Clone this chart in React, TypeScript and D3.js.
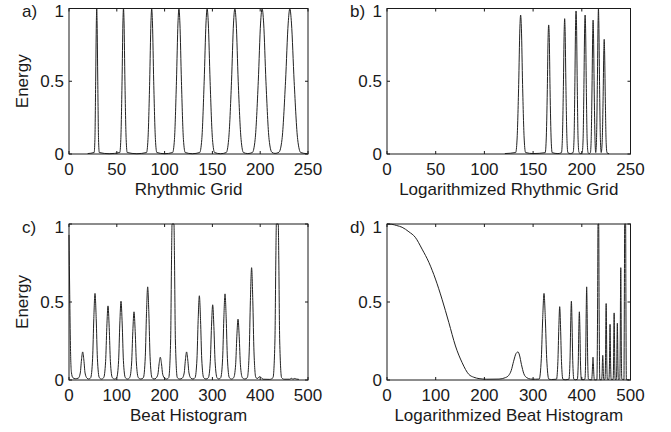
import React, { useEffect, useRef } from 'react'
import { select, scaleLinear, line, curveMonotoneX } from 'd3'

// energy curves as [bin, energy]
const rhythmicGrid: [number, number][] = [
  [19.5, 0.003],
  [26.3, 0.01], [27.1, 0.1], [27.9, 0.5], [28.6, 0.9], [29, 1], [29.4, 0.9], [30.1, 0.5], [30.9, 0.1], [31.7, 0.01],
  [42, 0.002],
  [53.1, 0.01], [54.2, 0.1], [55.5, 0.5], [56.4, 0.9], [57, 1], [57.6, 0.9], [58.5, 0.5], [59.8, 0.1], [60.9, 0.01],
  [71, 0.002],
  [81.1, 0.01], [82.6, 0.1], [84.4, 0.5], [85.7, 0.9], [86.5, 1], [87.3, 0.9], [88.6, 0.5], [90.4, 0.1], [91.9, 0.01],
  [100, 0.002],
  [108.4, 0.01], [110.3, 0.1], [112.4, 0.5], [114, 0.9], [115, 1], [116, 0.9], [117.6, 0.5], [119.7, 0.1], [121.6, 0.01],
  [129, 0.002],
  [136.7, 0.01], [138.9, 0.1], [141.4, 0.5], [143.3, 0.9], [144.5, 1], [145.7, 0.9], [147.6, 0.5], [150.1, 0.1], [152.3, 0.01],
  [158.5, 0.002],
  [164.5, 0.01], [167, 0.1], [170, 0.5], [172.1, 0.9], [173.5, 1], [174.9, 0.9], [177, 0.5], [180, 0.1], [182.5, 0.01],
  [187, 0.003],
  [191.8, 0.01], [194.7, 0.1], [198, 0.5], [200.4, 0.9], [202, 1], [203.6, 0.9], [206, 0.5], [209.3, 0.1], [212.2, 0.012],
  [215.5, 0.004],
  [219.6, 0.012], [222.8, 0.1], [226.5, 0.5], [229.3, 0.9], [231, 1], [232.7, 0.9], [235.5, 0.5], [239.2, 0.1], [242.4, 0.01],
  [249, 0.002],
]

const logRhythmicGrid: [number, number][] = [
  [121, 0.003],
  [132.1, 0.01], [133.5, 0.096], [135.2, 0.478], [136.4, 0.86], [137.2, 0.955], [138, 0.86], [139.2, 0.478], [140.9, 0.096], [142.3, 0.01],
  [150, 0.003],
  [162.4, 0.009], [163.4, 0.089], [164.6, 0.444], [165.4, 0.8], [166, 0.887], [166.6, 0.8], [167.4, 0.444], [168.6, 0.089], [169.6, 0.009],
  [175.5, 0.003],
  [179.1, 0.009], [180, 0.093], [181.1, 0.465], [181.9, 0.84], [182.4, 0.93], [182.9, 0.84], [183.7, 0.465], [184.8, 0.093], [185.7, 0.009],
  [188.3, 0.003],
  [191.1, 0.01], [192, 0.098], [192.9, 0.49], [193.6, 0.885], [194.1, 0.983], [194.6, 0.885], [195.3, 0.49], [196.2, 0.098], [197.1, 0.01],
  [198.8, 0.003],
  [200.4, 0.01], [201.3, 0.096], [202.2, 0.478], [202.9, 0.86], [203.4, 0.955], [203.9, 0.86], [204.6, 0.478], [205.5, 0.096], [206.4, 0.01],
  [207.5, 0.003],
  [208.8, 0.009], [209.6, 0.092], [210.5, 0.46], [211.2, 0.83], [211.6, 0.92], [212, 0.83], [212.7, 0.46], [213.6, 0.092], [214.3, 0.01],
  [215.1, 0.1], [216, 0.5], [216.7, 0.9], [217.1, 1], [217.5, 0.9], [218.2, 0.5], [219.1, 0.1], [219.9, 0.01],
  [220.9, 0.079], [221.9, 0.394], [222.6, 0.71], [223, 0.788], [223.4, 0.71], [224.1, 0.394], [225, 0.079], [225.9, 0.008],
  [228, 0.002],
]

const beatHistogram: [number, number][] = [
  [0, 0.93], [1.5, 0.55], [3, 0.22], [5, 0.05], [8, 0.015], [13, 0.008],
  [19.6, 0.012], [23.6, 0.045], [26.1, 0.128], [28.6, 0.18], [31.1, 0.128], [33.6, 0.045], [37.6, 0.012], [41.5, 0.006],
  [45.4, 0.015], [49.4, 0.139], [51.9, 0.394], [54.4, 0.555], [56.9, 0.394], [59.4, 0.139], [63.4, 0.015], [68, 0.006],
  [72.6, 0.015], [76.6, 0.119], [79.1, 0.337], [81.6, 0.475], [84.1, 0.337], [86.6, 0.119], [90.6, 0.015], [95.2, 0.006],
  [99.8, 0.015], [103.8, 0.126], [106.3, 0.359], [108.8, 0.505], [111.3, 0.359], [113.8, 0.126], [117.8, 0.015], [122.4, 0.006],
  [127, 0.015], [131, 0.109], [133.5, 0.31], [136, 0.437], [138.5, 0.31], [141, 0.109], [145, 0.015], [150.3, 0.006],
  [155.6, 0.015], [159.6, 0.149], [162.1, 0.424], [164.6, 0.597], [167.1, 0.424], [169.6, 0.149], [173.6, 0.015], [177.8, 0.006],
  [182, 0.012], [186, 0.037], [188.5, 0.104], [191, 0.146], [193.5, 0.104], [196, 0.037], [200, 0.012], [204.3, 0.006],
  [208.6, 0.015], [212.6, 0.25], [214.6, 0.8], [215.6, 1], [219.6, 1], [220.6, 0.8], [222.6, 0.25], [226.6, 0.015], [231.8, 0.006],
  [237, 0.012], [241, 0.045], [243.5, 0.128], [246, 0.18], [248.5, 0.128], [251, 0.045], [255, 0.012], [259.4, 0.006],
  [263.7, 0.015], [267.7, 0.135], [270.2, 0.383], [272.7, 0.54], [275.2, 0.383], [277.7, 0.135], [281.7, 0.015], [286.6, 0.006],
  [291.6, 0.015], [295.6, 0.12], [298.1, 0.342], [300.6, 0.482], [303.1, 0.342], [305.6, 0.12], [309.6, 0.015], [313.5, 0.006],
  [317.4, 0.015], [321.4, 0.138], [323.9, 0.392], [326.4, 0.552], [328.9, 0.392], [331.4, 0.138], [335.4, 0.015], [340, 0.006],
  [344.6, 0.015], [348.6, 0.098], [351.1, 0.277], [353.6, 0.39], [356.1, 0.277], [358.6, 0.098], [362.6, 0.015], [367.8, 0.006],
  [373, 0.015], [377, 0.18], [379.5, 0.511], [382, 0.72], [384.5, 0.511], [387, 0.18], [391, 0.015], [395, 0.01],
  [397, 0.018], [399.6, 0.022], [402, 0.015], [406, 0.005], [420, 0.004],
  [426.8, 0.015], [430.8, 0.25], [432.8, 0.8], [433.8, 1], [437.8, 1], [438.8, 0.8], [440.8, 0.25], [444.8, 0.015], [450, 0.005],
  [462, 0.005], [466, 0.012], [468, 0.005], [472, 0.01], [476, 0.006], [481, 0.004],
]

const logBeatHistogram: [number, number][] = [
  [0, 1], [10, 0.998], [20, 0.99], [31, 0.979], [45, 0.95], [58, 0.915], [72, 0.839], [86, 0.754], [99.5, 0.647],
  [113, 0.518], [127, 0.368], [140.6, 0.218], [154.3, 0.111], [168, 0.036], [178, 0.018], [189, 0.009], [205, 0.005],
  [230, 0.006], [243, 0.015], [250, 0.03], [255, 0.06], [260, 0.12], [265, 0.17], [269, 0.18], [272, 0.16], [276, 0.1],
  [281, 0.04], [287, 0.015], [295, 0.006], [305, 0.005],
  [312.5, 0.006], [316.9, 0.139], [319.7, 0.394], [322.4, 0.555], [325.1, 0.394], [327.9, 0.139], [332.3, 0.006], [338, 0.003],
  [348, 0.005], [350.9, 0.118], [352.8, 0.334], [354.6, 0.47], [356.4, 0.334], [358.3, 0.118], [361.2, 0.005], [366, 0.002],
  [373.5, 0.005], [375.8, 0.126], [377.2, 0.359], [378.6, 0.505], [380, 0.359], [381.4, 0.126], [383.7, 0.005], [387, 0.002],
  [390.8, 0.004], [392.7, 0.109], [393.8, 0.31], [395, 0.437], [396.2, 0.31], [397.3, 0.109], [399.2, 0.004], [402.5, 0.002],
  [406.4, 0.006], [408, 0.149], [409, 0.424], [410, 0.597], [411, 0.424], [412, 0.149], [413.6, 0.006], [416.5, 0.002],
  [420, 0.001], [421.3, 0.037], [422.2, 0.104], [423, 0.146], [423.8, 0.104], [424.7, 0.037], [426, 0.001], [428.5, 0.001],
  [431, 0.002], [432.5, 0.5], [433.3, 1], [434.7, 1], [435.5, 0.5], [437, 0.002],
  [440.6, 0.002], [441.7, 0.04], [442.3, 0.112], [443, 0.158], [443.7, 0.112], [444.3, 0.04], [445.4, 0.002],
  [447.6, 0.005], [448.7, 0.123], [449.3, 0.348], [450, 0.49], [450.7, 0.348], [451.3, 0.123], [452.4, 0.005],
  [455.7, 0.004], [456.75, 0.089], [457.4, 0.253], [458, 0.357], [458.6, 0.253], [459.25, 0.089], [460.3, 0.004],
  [464.3, 0.004], [465.2, 0.108], [465.8, 0.305], [466.4, 0.43], [467, 0.305], [467.6, 0.108], [468.5, 0.004],
  [470.9, 0.004], [471.8, 0.091], [472.4, 0.258], [473, 0.364], [473.6, 0.258], [474.2, 0.091], [475.1, 0.004],
  [477.9, 0.007], [478.8, 0.18], [479.4, 0.511], [480, 0.72], [480.6, 0.511], [481.2, 0.18], [482.1, 0.007],
  [486.5, 0.002], [487.5, 0.6], [488, 1], [490, 1], [490.5, 0.6], [491.5, 0.002],
  [497, 0.001],
]

const gridTicks = [0, 50, 100, 150, 200, 250]
const histTicks = [0, 100, 200, 300, 400, 500]
const energyTicks = [0, 0.5, 1]

const panels = [
  { tag: 'a)', data: rhythmicGrid, xMax: 250, xTicks: gridTicks, title: 'Rhythmic Grid', ylabel: true, left: 69, right: 308, top: 8.5, bottom: 154 },
  { tag: 'b)', data: logRhythmicGrid, xMax: 250, xTicks: gridTicks, title: 'Logarithmized Rhythmic Grid', ylabel: false, left: 387, right: 630.5, top: 8.5, bottom: 154 },
  { tag: 'c)', data: beatHistogram, xMax: 500, xTicks: histTicks, title: 'Beat Histogram', ylabel: true, left: 69, right: 308, top: 224, bottom: 380 },
  { tag: 'd)', data: logBeatHistogram, xMax: 500, xTicks: histTicks, title: 'Logarithmized Beat Histogram', ylabel: false, left: 387, right: 630.5, top: 224, bottom: 380 },
]

const font = '"Liberation Sans", Arial, Helvetica, sans-serif'
const ink = '#1a1a1a'

function App() {
  const ref = useRef<SVGSVGElement>(null)

  useEffect(() => {
    const svg = select(ref.current)
    svg.selectAll('*').remove()

    panels.forEach(p => {
      const g = svg.append('g')
      const x = scaleLinear().domain([0, p.xMax]).range([p.left, p.right])
      const y = scaleLinear().domain([0, 1]).range([p.bottom, p.top])

      // curve
      g.append('path')
        .datum(p.data)
        .attr('d', line<[number, number]>().x(d => x(d[0])).y(d => y(d[1])).curve(curveMonotoneX))
        .attr('fill', 'none')
        .attr('stroke', '#222')
        .attr('stroke-width', 1)

      // box
      g.append('rect')
        .attr('x', p.left).attr('y', p.top)
        .attr('width', p.right - p.left).attr('height', p.bottom - p.top)
        .attr('fill', 'none').attr('stroke', ink).attr('stroke-width', 1)

      // inward ticks on all four sides
      p.xTicks.forEach(t => {
        g.append('line').attr('x1', x(t)).attr('x2', x(t)).attr('y1', p.bottom).attr('y2', p.bottom - 3).attr('stroke', ink)
        g.append('line').attr('x1', x(t)).attr('x2', x(t)).attr('y1', p.top).attr('y2', p.top + 3).attr('stroke', ink)
        g.append('text')
          .attr('x', x(t)).attr('y', p.bottom + 21)
          .attr('text-anchor', 'middle')
          .style('font-family', font).style('font-size', '17px').attr('fill', ink)
          .text(t)
      })
      energyTicks.forEach(t => {
        g.append('line').attr('x1', p.left).attr('x2', p.left + 3).attr('y1', y(t)).attr('y2', y(t)).attr('stroke', ink)
        g.append('line').attr('x1', p.right).attr('x2', p.right - 3).attr('y1', y(t)).attr('y2', y(t)).attr('stroke', ink)
        g.append('text')
          .attr('x', p.left - 5).attr('y', t === 1 ? y(t) + 8.5 : y(t) + 6)
          .attr('text-anchor', 'end')
          .style('font-family', font).style('font-size', '17px').attr('fill', ink)
          .text(t)
      })

      // panel tag
      g.append('text')
        .attr('x', p.ylabel ? 22 : 350).attr('y', p.top + 8.5)
        .style('font-family', font).style('font-size', '17px').attr('fill', ink)
        .text(p.tag)

      // x title
      g.append('text')
        .attr('x', (p.left + p.right) / 2).attr('y', p.bottom + 41)
        .attr('text-anchor', 'middle')
        .style('font-family', font).style('font-size', '17px').attr('fill', ink)
        .text(p.title)

      if (p.ylabel) {
        g.append('text')
          .attr('transform', `translate(28,${(p.top + p.bottom) / 2}) rotate(-90)`)
          .attr('text-anchor', 'middle')
          .style('font-family', font).style('font-size', '17px').attr('fill', ink)
          .text('Energy')
      }
    })
  }, [])

  return (
    <svg ref={ref} width={671} height={432}
      style={{ position: 'absolute', left: 0, top: 0, background: '#fff' }} />
  )
}

export default App
